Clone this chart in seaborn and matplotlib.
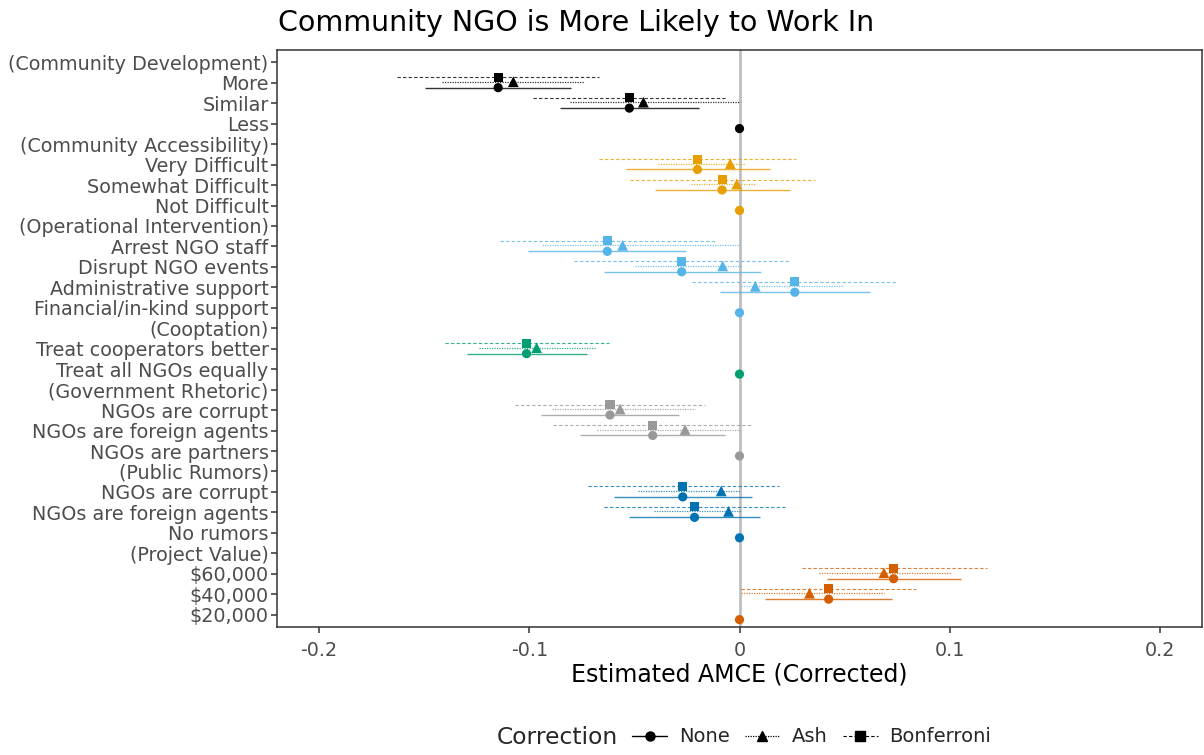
import numpy as np
import pandas as pd
import matplotlib
matplotlib.use("Agg")
import matplotlib.pyplot as plt
from matplotlib.lines import Line2D
import seaborn as sns

# ---------------- data ----------------
labels = ["(Community Development)", "More", "Similar", "Less",
          "(Community Accessibility)", "Very Difficult", "Somewhat Difficult", "Not Difficult",
          "(Operational Intervention)", "Arrest NGO staff", "Disrupt NGO events",
          "Administrative support", "Financial/in-kind support",
          "(Cooptation)", "Treat cooperators better", "Treat all NGOs equally",
          "(Government Rhetoric)", "NGOs are corrupt", "NGOs are foreign agents", "NGOs are partners",
          "(Public Rumors)", "NGOs are corrupt", "NGOs are foreign agents", "No rumors",
          "(Project Value)", "$60,000", "$40,000", "$20,000"]

groups = ["Community Development"] * 4 + ["Community Accessibility"] * 4 + \
         ["Operational Intervention"] * 5 + ["Cooptation"] * 3 + \
         ["Government Rhetoric"] * 4 + ["Public Rumors"] * 4 + ["Project Value"] * 4

N = np.nan
# None correction (estimate, lower, upper); reference levels = 0 with no interval
none_est = [N, -0.1148, -0.0524, 0.0, N, -0.0200, -0.0083, 0.0, N, -0.0629, -0.0275, 0.0263, 0.0,
            N, -0.1013, 0.0, N, -0.0616, -0.0413, 0.0, N, -0.0270, -0.0214, 0.0, N, 0.0733, 0.0424, 0.0]
none_lo = [N, -0.1495, -0.0852, N, N, -0.0540, -0.0400, N, N, -0.1005, -0.0646, -0.0092, N,
           N, -0.1294, N, N, -0.0944, -0.0759, N, N, -0.0598, -0.0527, N, N, 0.0416, 0.0119, N]
none_hi = [N, -0.0800, -0.0195, N, N, 0.0143, 0.0238, N, N, -0.0254, 0.0100, 0.0619, N,
           N, -0.0727, N, N, -0.0286, -0.0067, N, N, 0.0059, 0.0098, N, N, 0.1052, 0.0725, N]

ash_est = [N, -0.1076, -0.0457, N, N, -0.0044, -0.0013, N, N, -0.0556, -0.0080, 0.0075, N,
           N, -0.0965, N, N, -0.0568, -0.0259, N, N, -0.0087, -0.0052, N, N, 0.0687, 0.0333, N]
ash_lo = [N, -0.1414, -0.0805, N, N, -0.0390, -0.0233, N, N, -0.0938, -0.0497, 0.0005, N,
          N, -0.1241, N, N, -0.0894, -0.0678, N, N, -0.0484, -0.0405, N, N, 0.0376, 0.0008, N]
ash_hi = [N, -0.0738, 0.0000, N, N, 0.0027, 0.0076, N, N, 0.0000, 0.0008, 0.0492, N,
          N, -0.0686, N, N, -0.0214, 0.0000, N, N, 0.0000, 0.0008, N, N, 0.1005, 0.0686, N]

bonf_est = [N, -0.1148, -0.0524, N, N, -0.0200, -0.0083, N, N, -0.0629, -0.0275, 0.0263, N,
            N, -0.1013, N, N, -0.0616, -0.0413, N, N, -0.0270, -0.0214, N, N, 0.0733, 0.0424, N]
bonf_lo = [N, -0.1630, -0.0980, N, N, -0.0667, -0.0520, N, N, -0.1138, -0.0786, -0.0227, N,
           N, -0.1400, N, N, -0.1067, -0.0886, N, N, -0.0722, -0.0646, N, N, 0.0297, 0.0008, N]
bonf_hi = [N, -0.0667, -0.0067, N, N, 0.0271, 0.0360, N, N, -0.0114, 0.0238, 0.0750, N,
           N, -0.0619, N, N, -0.0163, 0.0063, N, N, 0.0186, 0.0217, N, N, 0.1175, 0.0838, N]

x_ticks = [-0.2, -0.1, 0.0, 0.1, 0.2]
x_ticklabels = ["-0.2", "-0.1", "0", "0.1", "0.2"]

# ---------------- styling ----------------
palette = {"Community Development": "#000000",
           "Community Accessibility": "#E69F00",
           "Operational Intervention": "#56B4E9",
           "Cooptation": "#009E73",
           "Government Rhetoric": "#999999",
           "Public Rumors": "#0072B2",
           "Project Value": "#D55E00"}
corrections = ["None", "Ash", "Bonferroni"]
offsets = {"None": -0.24, "Ash": 0.05, "Bonferroni": 0.27}
markers = {"None": "o", "Ash": "^", "Bonferroni": "s"}
msizes = {"None": 44, "Ash": 60, "Bonferroni": 42}
lstyles = {"None": "-", "Ash": (0, (1, 1.0)), "Bonferroni": (0, (3, 2))}
lwidths = {"None": 1.0, "Ash": 0.9, "Bonferroni": 0.8}

nrow = len(labels)
base = np.arange(nrow)[::-1].astype(float)  # top row highest

rows = []
series = {"None": (none_est, none_lo, none_hi),
          "Ash": (ash_est, ash_lo, ash_hi),
          "Bonferroni": (bonf_est, bonf_lo, bonf_hi)}
for corr in corrections:
    est, lo, hi = series[corr]
    for i in range(nrow):
        rows.append({"label": labels[i], "group": groups[i], "correction": corr,
                     "est": est[i], "lo": lo[i], "hi": hi[i],
                     "y": base[i] + offsets[corr]})
df = pd.DataFrame(rows)

sns.set_theme(style="white")
plt.rcParams["font.family"] = ["DejaVu Sans"]

fig = plt.figure(figsize=(12.04, 7.55), dpi=100)
ax = fig.add_axes([277 / 1204, 1 - 627 / 755, 925 / 1204, 577 / 755])

ax.axvline(0, color="#BEBEBE", lw=2.0, zorder=1)

for corr in corrections:
    sub = df[(df.correction == corr) & df.lo.notna()]
    for _, r in sub.iterrows():
        ax.hlines(r.y, r.lo, r.hi, color=palette[r.group], linestyle=lstyles[corr],
                  lw=lwidths[corr], alpha=0.8, zorder=2)

pts = df[df.est.notna()]
sns.scatterplot(data=pts, x="est", y="y", hue="group", style="correction",
                size="correction", sizes=msizes, markers=markers, palette=palette,
                linewidth=0, legend=False, ax=ax, zorder=3)

ax.set_xlim(-0.22, 0.22)
ax.set_ylim(-0.6, nrow - 1 + 0.6)
ax.set_yticks(base)
ax.set_yticklabels(labels)
ax.set_xticks(x_ticks)
ax.set_xticklabels(x_ticklabels)
ax.tick_params(axis="both", which="major", length=4, width=1.1, color="#333333",
               labelcolor="#4D4D4D", labelsize=13.8, left=True, bottom=True, pad=2)
ax.tick_params(axis="x", pad=6)
for sp in ax.spines.values():
    sp.set_color("#333333")
    sp.set_linewidth(1.1)
ax.set_ylabel("")
ax.set_xlabel("Estimated AMCE (Corrected)", fontsize=17, color="black", labelpad=2)

fig.text(278 / 1204, 1 - 23 / 755, "Community NGO is More Likely to Work In",
         fontsize=20.5, va="center", ha="left", color="black")

# legend
fig.text(497 / 1204, 1 - 738 / 755, "Correction", fontsize=16.8, va="center", ha="left")
handles = [Line2D([], [], color="black", linestyle=lstyles[c], lw=lwidths[c], marker=markers[c],
                  markersize=6.5 if c != "Ash" else 7.5) for c in corrections]
fig.legend(handles, corrections, loc="center left", bbox_to_anchor=(632 / 1204, 1 - 737 / 755),
           ncol=3, frameon=False, fontsize=14, handlelength=1.8, handletextpad=0.6,
           columnspacing=0.8, borderpad=0, borderaxespad=0)

fig.savefig("out.png", dpi=100)
